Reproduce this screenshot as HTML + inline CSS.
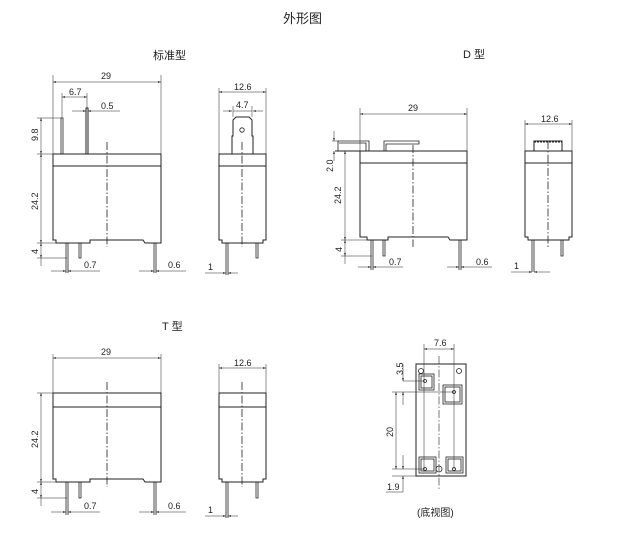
<!DOCTYPE html>
<html><head><meta charset="utf-8"><style>
html,body{margin:0;padding:0;background:#fff;}
svg{display:block;}
text{font-family:"Liberation Sans","Noto Sans CJK SC",sans-serif;fill:#222;}
.t{font-size:9px;}
</style></head><body>
<svg width="620" height="541" viewBox="0 0 620 541" xmlns="http://www.w3.org/2000/svg">
<defs>
<marker id="a" viewBox="0 0 10 6" refX="10" refY="3" markerWidth="6" markerHeight="3.6" orient="auto-start-reverse"><path d="M0,0L10,3L0,6z" fill="#222"/></marker>
</defs>
<g fill="none" stroke="#222" stroke-width="0.8">
<text x="283" y="23" font-size="13" stroke="none">外形图</text>
<text x="153" y="59" font-size="11" stroke="none">标准型</text>
<text x="463" y="58" font-size="11" stroke="none">D 型</text>
<text x="162" y="330" font-size="11" stroke="none">T 型</text>
<text x="417" y="516" font-size="10" stroke="none">(底视图)</text>

<!-- ===== Standard front ===== -->
<path d="M53,154H161V243H145L143,240H90V243H56V240H53Z" stroke-width="1"/>
<line x1="53" y1="166" x2="161" y2="166" stroke-width="1"/>
<path d="M61,154V118H63V154"/>
<path d="M86,154V108H88V154" stroke-width="1"/>
<line x1="107" y1="142" x2="107" y2="247" stroke-dasharray="8,2,1.5,2"/>
<path d="M66,243V273M68,243V273M79,243V258H81V243M154,243V273M156,243V273"/>
<line x1="53" y1="75" x2="53" y2="154" stroke-width="0.5"/><line x1="161" y1="75" x2="161" y2="154" stroke-width="0.5"/>
<line x1="53" y1="82" x2="161" y2="82" stroke-width="0.5" marker-start="url(#a)" marker-end="url(#a)"/>
<text class="t" x="101" y="79" stroke="none">29</text>
<line x1="62" y1="93" x2="62" y2="118" stroke-width="0.5"/><line x1="87" y1="93" x2="87" y2="108" stroke-width="0.5"/>
<line x1="62" y1="97" x2="87" y2="97" stroke-width="0.5" marker-start="url(#a)" marker-end="url(#a)"/>
<text class="t" x="69" y="95" stroke="none">6.7</text>
<line x1="72" y1="111" x2="86" y2="111" stroke-width="0.5" marker-end="url(#a)"/>
<line x1="120" y1="111" x2="88" y2="111" stroke-width="0.5" marker-end="url(#a)"/>
<text class="t" x="101" y="109" stroke="none">0.5</text>
<line x1="37" y1="118" x2="61" y2="118" stroke-width="0.5"/><line x1="37" y1="154" x2="53" y2="154" stroke-width="0.5"/>
<line x1="41" y1="118" x2="41" y2="154" stroke-width="0.5" marker-start="url(#a)" marker-end="url(#a)"/>
<text class="t" transform="translate(38,141) rotate(-90)" stroke="none">9.8</text>
<line x1="41" y1="154" x2="41" y2="243" stroke-width="0.5" marker-start="url(#a)" marker-end="url(#a)"/>
<text class="t" transform="translate(38,210) rotate(-90)" stroke="none">24.2</text>
<line x1="37" y1="243" x2="56" y2="243" stroke-width="0.5"/><line x1="37" y1="258" x2="67" y2="258" stroke-width="0.5"/>
<line x1="41" y1="243" x2="41" y2="258" stroke-width="0.5" marker-start="url(#a)" marker-end="url(#a)"/>
<line x1="41" y1="258" x2="41" y2="266" stroke-width="0.5"/>
<text class="t" transform="translate(38,254) rotate(-90)" stroke="none">4</text>
<line x1="51" y1="271" x2="66" y2="271" stroke-width="0.5" marker-end="url(#a)"/>
<line x1="100" y1="271" x2="68" y2="271" stroke-width="0.5" marker-end="url(#a)"/>
<text class="t" x="84" y="268" stroke="none">0.7</text>
<line x1="139" y1="271" x2="154" y2="271" stroke-width="0.5" marker-end="url(#a)"/>
<line x1="186" y1="271" x2="156" y2="271" stroke-width="0.5" marker-end="url(#a)"/>
<text class="t" x="168" y="268" stroke="none">0.6</text>

<!-- Standard side -->
<path d="M219,154H266V240H263V243H222V240H219Z" stroke-width="1"/>
<line x1="219" y1="166" x2="266" y2="166" stroke-width="1"/>
<path d="M232,154V136H233V120L236,117H249L252,120V136H253V154" stroke-width="1"/>
<circle cx="242" cy="130" r="2.2"/>
<line x1="242" y1="142" x2="242" y2="247" stroke-dasharray="8,2,1.5,2"/>
<path d="M226,243V275M228,243V275M256,243V258H258V243"/>
<line x1="219" y1="88" x2="219" y2="154" stroke-width="0.5"/><line x1="266" y1="88" x2="266" y2="154" stroke-width="0.5"/>
<line x1="219" y1="92" x2="266" y2="92" stroke-width="0.5" marker-start="url(#a)" marker-end="url(#a)"/>
<text class="t" x="234" y="90" stroke="none">12.6</text>
<line x1="233" y1="106" x2="233" y2="117" stroke-width="0.5"/><line x1="252" y1="106" x2="252" y2="117" stroke-width="0.5"/>
<line x1="223" y1="111" x2="232" y2="111" stroke-width="0.5" marker-end="url(#a)"/>
<line x1="263" y1="111" x2="253" y2="111" stroke-width="0.5" marker-end="url(#a)"/>
<line x1="233" y1="111" x2="252" y2="111" stroke-width="0.5"/>
<text class="t" x="236" y="108" stroke="none">4.7</text>
<line x1="205" y1="273" x2="226" y2="273" stroke-width="0.5" marker-end="url(#a)"/>
<line x1="238" y1="273" x2="228" y2="273" stroke-width="0.5" marker-end="url(#a)"/>
<text class="t" x="208" y="270" stroke="none">1</text>

<!-- ===== D front ===== -->
<path d="M360,151H467V240H450L448,237H388V240H367V237H360Z" stroke-width="1"/>
<line x1="360" y1="163" x2="467" y2="163" stroke-width="1"/>
<path d="M338,151V141H369V151M366,151V143H339" stroke-width="0.8"/>
<path d="M384,151V141H419V144H386V151"/>
<line x1="335" y1="151" x2="467" y2="151" stroke-width="1"/>
<line x1="413" y1="145" x2="413" y2="247" stroke-dasharray="8,2,1.5,2"/>
<path d="M371,240V270M373,240V270M383,240V256H385V240M459,240V270M461,240V270"/>
<line x1="360" y1="108" x2="360" y2="151" stroke-width="0.5"/><line x1="467" y1="108" x2="467" y2="151" stroke-width="0.5"/>
<line x1="360" y1="114" x2="467" y2="114" stroke-width="0.5" marker-start="url(#a)" marker-end="url(#a)"/>
<text class="t" x="408" y="111" stroke="none">29</text>
<line x1="332" y1="141" x2="339" y2="141" stroke-width="0.5"/>
<line x1="334" y1="131" x2="334" y2="141" stroke-width="0.5" marker-end="url(#a)"/>
<line x1="334" y1="161" x2="334" y2="151" stroke-width="0.5" marker-end="url(#a)"/>
<text class="t" transform="translate(333,172) rotate(-90)" stroke="none">2.0</text>
<line x1="345" y1="151" x2="345" y2="240" stroke-width="0.5" marker-start="url(#a)" marker-end="url(#a)"/>
<text class="t" transform="translate(341,204) rotate(-90)" stroke="none">24.2</text>
<line x1="341" y1="240" x2="367" y2="240" stroke-width="0.5"/><line x1="341" y1="256" x2="372" y2="256" stroke-width="0.5"/>
<line x1="345" y1="240" x2="345" y2="256" stroke-width="0.5" marker-start="url(#a)" marker-end="url(#a)"/>
<line x1="345" y1="256" x2="345" y2="264" stroke-width="0.5"/>
<text class="t" transform="translate(342,252) rotate(-90)" stroke="none">4</text>
<line x1="358" y1="267" x2="371" y2="267" stroke-width="0.5" marker-end="url(#a)"/>
<line x1="403" y1="267" x2="373" y2="267" stroke-width="0.5" marker-end="url(#a)"/>
<text class="t" x="389" y="265" stroke="none">0.7</text>
<line x1="447" y1="267" x2="459" y2="267" stroke-width="0.5" marker-end="url(#a)"/>
<line x1="492" y1="267" x2="461" y2="267" stroke-width="0.5" marker-end="url(#a)"/>
<text class="t" x="476" y="265" stroke="none">0.6</text>

<!-- D side -->
<path d="M525,151H572V237H569V240H528V237H525Z" stroke-width="1"/>
<line x1="525" y1="163" x2="572" y2="163" stroke-width="1"/>
<path d="M534,151V141H562V151" stroke-width="1"/>
<line x1="534" y1="142" x2="562" y2="142" stroke-dasharray="2,1" stroke-width="1"/>
<line x1="548" y1="141" x2="548" y2="247" stroke-dasharray="8,2,1.5,2"/>
<path d="M532,240V272M534,240V272M561,240V256H563V240"/>
<line x1="525" y1="120" x2="525" y2="151" stroke-width="0.5"/><line x1="572" y1="120" x2="572" y2="151" stroke-width="0.5"/>
<line x1="525" y1="124" x2="572" y2="124" stroke-width="0.5" marker-start="url(#a)" marker-end="url(#a)"/>
<text class="t" x="541" y="122" stroke="none">12.6</text>
<line x1="511" y1="272" x2="532" y2="272" stroke-width="0.5" marker-end="url(#a)"/>
<line x1="550" y1="272" x2="534" y2="272" stroke-width="0.5" marker-end="url(#a)"/>
<text class="t" x="514" y="269" stroke="none">1</text>

<!-- ===== T front ===== -->
<path d="M53,393H161V482H145L143,479H90V482H56V479H53Z" stroke-width="1"/>
<line x1="53" y1="407" x2="161" y2="407" stroke-width="1"/>
<line x1="107" y1="382" x2="107" y2="487" stroke-dasharray="8,2,1.5,2"/>
<path d="M66,482V515M68,482V515M79,482V498H81V482M154,482V515M156,482V515"/>
<line x1="53" y1="354" x2="53" y2="393" stroke-width="0.5"/><line x1="161" y1="354" x2="161" y2="393" stroke-width="0.5"/>
<line x1="53" y1="358" x2="161" y2="358" stroke-width="0.5" marker-start="url(#a)" marker-end="url(#a)"/>
<text class="t" x="101" y="355" stroke="none">29</text>
<line x1="37" y1="393" x2="53" y2="393" stroke-width="0.5"/>
<line x1="41" y1="393" x2="41" y2="482" stroke-width="0.5" marker-start="url(#a)" marker-end="url(#a)"/>
<text class="t" transform="translate(38,448) rotate(-90)" stroke="none">24.2</text>
<line x1="37" y1="482" x2="56" y2="482" stroke-width="0.5"/><line x1="37" y1="498" x2="67" y2="498" stroke-width="0.5"/>
<line x1="41" y1="482" x2="41" y2="498" stroke-width="0.5" marker-start="url(#a)" marker-end="url(#a)"/>
<line x1="41" y1="498" x2="41" y2="506" stroke-width="0.5"/>
<text class="t" transform="translate(38,494) rotate(-90)" stroke="none">4</text>
<line x1="51" y1="512" x2="66" y2="512" stroke-width="0.5" marker-end="url(#a)"/>
<line x1="100" y1="512" x2="68" y2="512" stroke-width="0.5" marker-end="url(#a)"/>
<text class="t" x="84" y="509" stroke="none">0.7</text>
<line x1="139" y1="512" x2="154" y2="512" stroke-width="0.5" marker-end="url(#a)"/>
<line x1="186" y1="512" x2="156" y2="512" stroke-width="0.5" marker-end="url(#a)"/>
<text class="t" x="168" y="509" stroke="none">0.6</text>

<!-- T side -->
<path d="M219,393H266V479H263V482H222V479H219Z" stroke-width="1"/>
<line x1="219" y1="407" x2="266" y2="407" stroke-width="1"/>
<line x1="242" y1="382" x2="242" y2="487" stroke-dasharray="8,2,1.5,2"/>
<path d="M226,482V518M228,482V518M256,482V498H258V482"/>
<line x1="219" y1="364" x2="219" y2="393" stroke-width="0.5"/><line x1="266" y1="364" x2="266" y2="393" stroke-width="0.5"/>
<line x1="219" y1="368" x2="266" y2="368" stroke-width="0.5" marker-start="url(#a)" marker-end="url(#a)"/>
<text class="t" x="234" y="366" stroke="none">12.6</text>
<line x1="205" y1="516" x2="226" y2="516" stroke-width="0.5" marker-end="url(#a)"/>
<line x1="238" y1="516" x2="228" y2="516" stroke-width="0.5" marker-end="url(#a)"/>
<text class="t" x="208" y="513" stroke="none">1</text>

<!-- ===== Bottom view ===== -->
<rect x="416" y="364" width="50" height="112" stroke-width="1"/>
<circle cx="421" cy="371" r="2.5"/><circle cx="459" cy="371" r="2.5"/>
<rect x="419" y="374" width="15" height="16"/><rect x="421" y="376" width="11" height="12"/>
<circle cx="425" cy="381" r="1.5"/>
<rect x="443" y="385" width="19" height="19"/><rect x="445" y="387" width="15" height="15"/>
<circle cx="454" cy="392" r="1.5"/>
<rect x="419" y="457" width="17" height="16"/><rect x="421" y="459" width="13" height="12"/>
<rect x="446" y="457" width="17" height="16"/><rect x="448" y="459" width="13" height="12"/>
<circle cx="425" cy="469" r="1.5"/><circle cx="454" cy="469" r="1.5"/>
<circle cx="439" cy="469" r="3"/>
<line x1="439" y1="356" x2="439" y2="490" stroke-dasharray="8,2,1.5,2" stroke-width="0.6"/>
<line x1="424" y1="344" x2="424" y2="469" stroke-width="0.5"/><line x1="454" y1="344" x2="454" y2="469" stroke-width="0.5"/>
<line x1="424" y1="349" x2="454" y2="349" stroke-width="0.5" marker-start="url(#a)" marker-end="url(#a)"/>
<text class="t" x="434" y="346" stroke="none">7.6</text>
<line x1="403" y1="381" x2="425" y2="381" stroke-width="0.5"/>
<line x1="392" y1="392" x2="454" y2="392" stroke-width="0.5"/>
<line x1="392" y1="469" x2="425" y2="469" stroke-width="0.5"/>
<line x1="403" y1="364" x2="403" y2="381" stroke-width="0.5" marker-end="url(#a)"/>
<line x1="403" y1="405" x2="403" y2="392" stroke-width="0.5" marker-end="url(#a)"/>
<text class="t" transform="translate(403,375) rotate(-90)" stroke="none">3.5</text>
<line x1="396" y1="392" x2="396" y2="469" stroke-width="0.5" marker-start="url(#a)" marker-end="url(#a)"/>
<text class="t" transform="translate(393,437) rotate(-90)" stroke="none">20</text>
<line x1="403" y1="455" x2="403" y2="469" stroke-width="0.5" marker-end="url(#a)"/>
<line x1="392" y1="476" x2="416" y2="476" stroke-width="0.5"/>
<line x1="403" y1="486" x2="403" y2="476" stroke-width="0.5" marker-end="url(#a)"/>
<line x1="403" y1="486" x2="403" y2="492" stroke-width="0.5"/>
<line x1="386" y1="492" x2="403" y2="492" stroke-width="0.5"/>
<text class="t" x="387" y="490" stroke="none">1.9</text>
</g>
</svg>
</body></html>
